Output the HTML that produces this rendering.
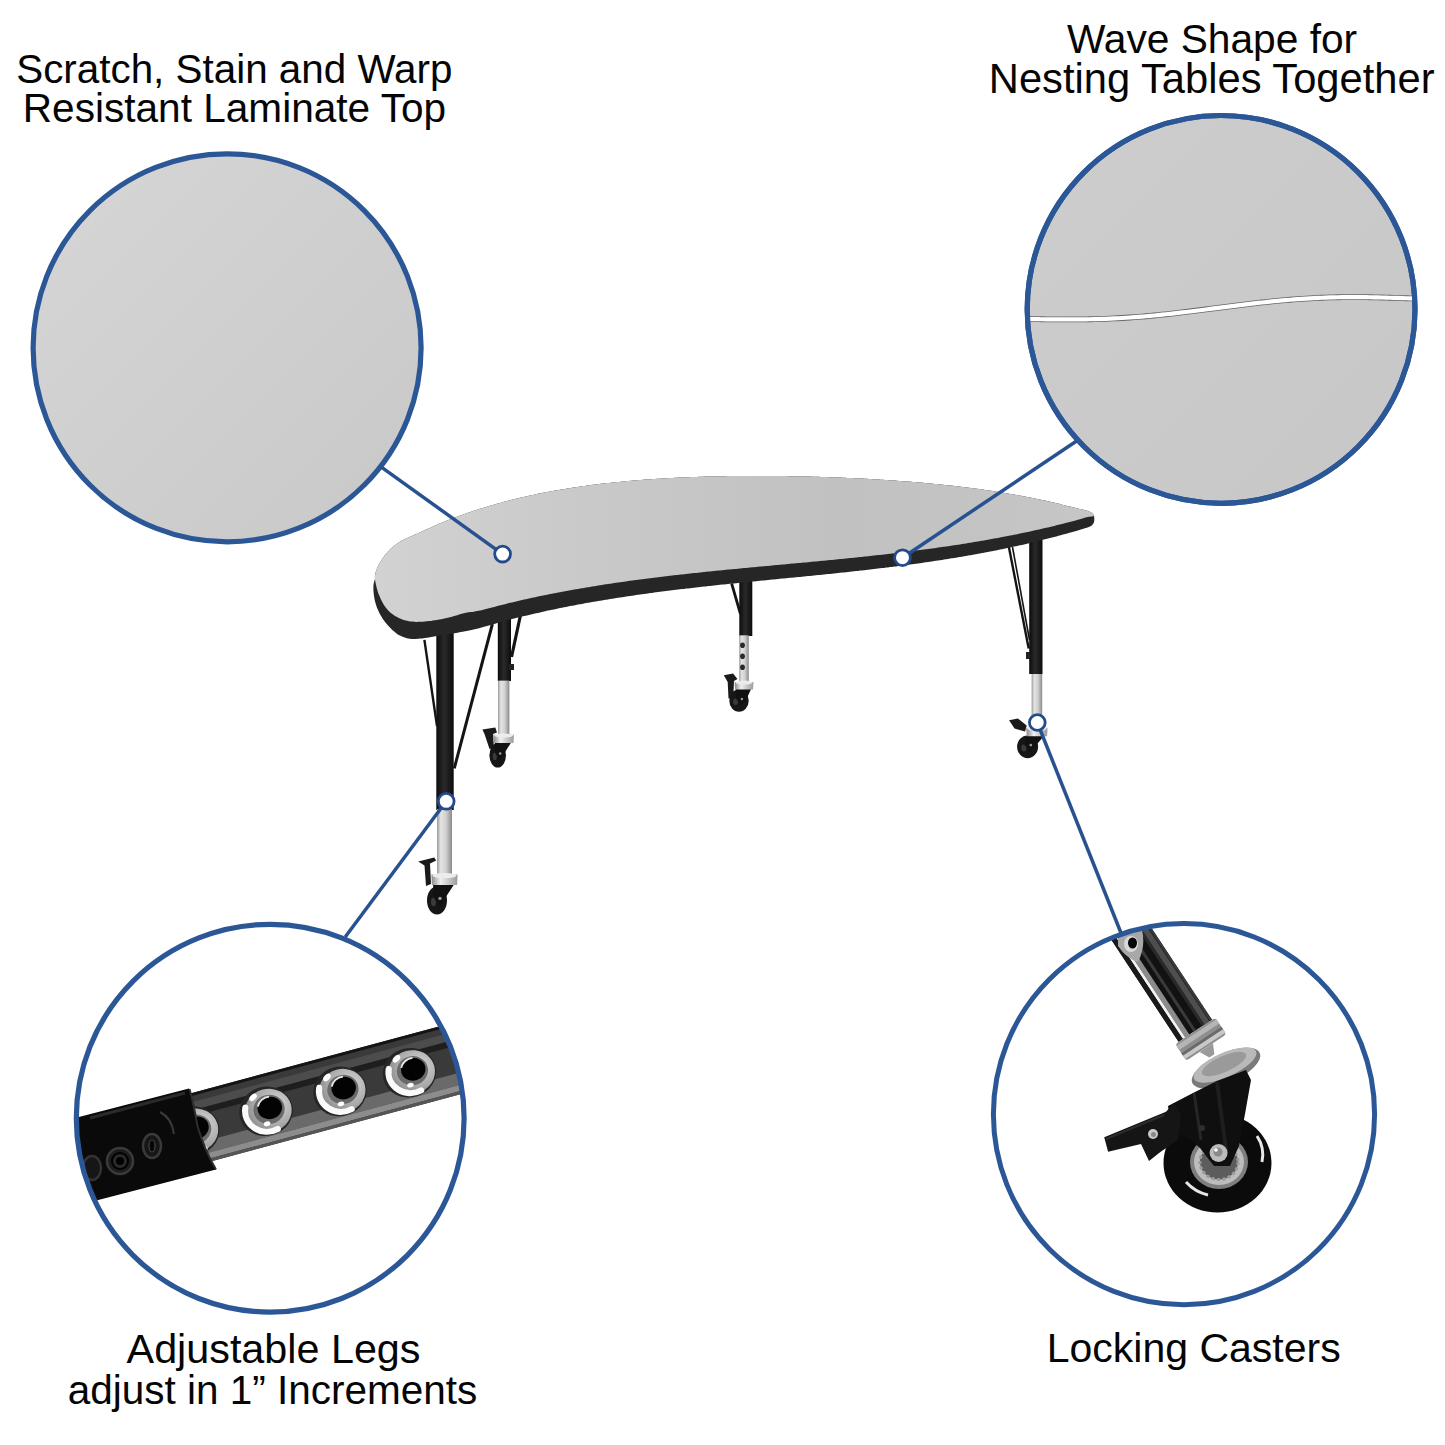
<!DOCTYPE html>
<html><head><meta charset="utf-8"><title>Half Circle Activity Table</title>
<style>
html,body{margin:0;padding:0;background:#fff;}
body{width:1445px;height:1445px;overflow:hidden;font-family:"Liberation Sans",sans-serif;}
svg{display:block;}
</style></head>
<body>
<svg width="1445" height="1445" viewBox="0 0 1445 1445">
<rect width="1445" height="1445" fill="#fff"/>
<defs>
<linearGradient id="g1" x1="0" y1="0" x2="1" y2="1">
 <stop offset="0" stop-color="#d6d6d6"/><stop offset="1" stop-color="#c8c8c8"/></linearGradient>
<linearGradient id="g2" x1="0" y1="0" x2="1" y2="1">
 <stop offset="0" stop-color="#cdcdcd"/><stop offset="1" stop-color="#c7c7c7"/></linearGradient>
<linearGradient id="gtop" x1="0" y1="0" x2="1" y2="0">
 <stop offset="0" stop-color="#d2d2d2"/><stop offset="0.3" stop-color="#c9c9c9"/><stop offset="0.65" stop-color="#c1c1c1"/><stop offset="1" stop-color="#c6c6c6"/></linearGradient>
<linearGradient id="chrome" x1="0" y1="0" x2="1" y2="0">
 <stop offset="0" stop-color="#9a9a9a"/><stop offset="0.25" stop-color="#e4e4e4"/><stop offset="0.6" stop-color="#d0d0d0"/><stop offset="1" stop-color="#8a8a8a"/></linearGradient>
<linearGradient id="collar" x1="0" y1="0" x2="1" y2="0">
 <stop offset="0" stop-color="#8a8a8a"/><stop offset="0.35" stop-color="#f0f0f0"/><stop offset="1" stop-color="#9a9a9a"/></linearGradient>
<linearGradient id="legb" x1="0" y1="0" x2="1" y2="0">
 <stop offset="0" stop-color="#0c0c0c"/><stop offset="0.45" stop-color="#2a2a2a"/><stop offset="1" stop-color="#0c0c0c"/></linearGradient>
<radialGradient id="holeg" cx="0.7" cy="0.4" r="0.8">
 <stop offset="0" stop-color="#d4d4d4"/><stop offset="0.6" stop-color="#a8a8a8"/><stop offset="1" stop-color="#7a7a7a"/></radialGradient>
<clipPath id="c2"><circle cx="1221.1" cy="309.4" r="193.5"/></clipPath>
<clipPath id="c3"><circle cx="270.2" cy="1118.2" r="194"/></clipPath>
<clipPath id="c4"><circle cx="1184" cy="1114.2" r="190.5"/></clipPath>
</defs>
<rect x="497.8" y="615" width="13.2" height="66" fill="url(#legb)"/>
<line x1="520.5" y1="615.0" x2="511.5" y2="657.0" stroke="#141414" stroke-width="3.2"/>
<rect x="509" y="664" width="5" height="6" fill="#222"/>
<rect x="498.0" y="680.6" width="11.4" height="54.1" fill="url(#chrome)"/>
<polygon points="482.4,729.4 495.3,727.6 497.0,732.4 493.0,734.0 494.0,748.0 489.5,749.0 484.5,734.0" fill="#1a1a1a"/>
<ellipse cx="497.7" cy="755.3" rx="8.3" ry="12.3" fill="#161616"/>
<ellipse cx="494.8" cy="756.5" rx="2.1" ry="3.7" fill="#3a3a3a"/>
<polygon points="494.7,741.3 511.9,741.3 503.9,754.1 499.4,760.8 495.2,752.8" fill="#111"/>
<circle cx="500.2" cy="753.5" r="1.3" fill="#9a9a9a"/>
<path d="M493.4,734.7 h20.5 l-0.4,8.2 h-19.7 z" fill="url(#collar)"/>
<ellipse cx="503.7" cy="735.5" rx="9.4" ry="2.1" fill="#ececec"/>
<rect x="739.3" y="578" width="13" height="58" fill="url(#legb)"/>
<line x1="731.6" y1="583.3" x2="740.5" y2="614.0" stroke="#141414" stroke-width="2.8"/>
<rect x="739.2" y="635.3" width="9.6" height="46.6" fill="url(#chrome)"/>
<ellipse cx="742.5" cy="645.3" rx="2.4" ry="2.8" fill="#2a2a2a"/>
<ellipse cx="742.5" cy="656.3" rx="2.4" ry="2.8" fill="#2a2a2a"/>
<ellipse cx="742.5" cy="667.3" rx="2.4" ry="2.8" fill="#2a2a2a"/>
<polygon points="723.8,675.2 733.0,673.5 737.5,679.0 734.0,681.0 733.2,698.5 728.5,698.5 727.7,681.9" fill="#1a1a1a"/>
<ellipse cx="739.0" cy="700.7" rx="9.7" ry="11.1" fill="#161616"/>
<ellipse cx="735.6" cy="701.8" rx="2.4" ry="3.3" fill="#3a3a3a"/>
<polygon points="735.8,687.9 751.5,687.9 746.3,699.6 740.9,705.7 736.1,698.5" fill="#111"/>
<circle cx="741.9" cy="699.0" r="1.2" fill="#9a9a9a"/>
<path d="M734.6,681.9 h18.8 l-0.4,7.5 h-18.0 z" fill="url(#collar)"/>
<ellipse cx="744.0" cy="682.6" rx="8.6" ry="2.0" fill="#ececec"/>
<rect x="1029.2" y="540" width="13.3" height="134" fill="url(#legb)"/>
<line x1="1008.9" y1="547.0" x2="1028.7" y2="648.6" stroke="#141414" stroke-width="2.4"/>
<line x1="1012.5" y1="547.0" x2="1029.5" y2="640.0" stroke="#141414" stroke-width="1.6"/>
<rect x="1026" y="652" width="4" height="7" fill="#222"/>
<rect x="1031.6" y="674.0" width="10.6" height="53.8" fill="url(#chrome)"/>
<polygon points="1009.1,720.2 1017.9,718.6 1026.7,725.5 1025.1,731.6 1014.5,728.5" fill="#1a1a1a"/>
<ellipse cx="1027.6" cy="746.8" rx="10.5" ry="11.4" fill="#161616"/>
<ellipse cx="1023.9" cy="747.9" rx="2.6" ry="3.4" fill="#3a3a3a"/>
<polygon points="1027.6,734.6 1045.4,734.6 1035.5,745.7 1029.7,751.9 1024.4,744.5" fill="#111"/>
<circle cx="1030.8" cy="745.1" r="1.4" fill="#9a9a9a"/>
<path d="M1026.3,727.8 h21.2 l-0.4,8.5 h-20.4 z" fill="url(#collar)"/>
<ellipse cx="1036.9" cy="728.6" rx="9.8" ry="2.2" fill="#ececec"/>
<rect x="436.3" y="625" width="17.4" height="185" fill="url(#legb)"/>
<line x1="424.4" y1="639.9" x2="437.0" y2="726.0" stroke="#141414" stroke-width="2.4"/>
<line x1="492.4" y1="624.0" x2="454.3" y2="768.3" stroke="#141414" stroke-width="3.0"/>
<rect x="437.0" y="809.0" width="15.0" height="65.6" fill="url(#chrome)"/>
<polygon points="418.2,861.5 434.2,857.6 436.2,860.5 430.0,863.5 431.0,884.0 426.0,886.0 424.5,865.4" fill="#1a1a1a"/>
<ellipse cx="437.0" cy="900.5" rx="10.0" ry="14.0" fill="#161616"/>
<ellipse cx="433.5" cy="901.9" rx="2.5" ry="4.2" fill="#3a3a3a"/>
<polygon points="432.9,883.0 455.0,883.0 444.5,899.1 439.0,906.8 434.0,897.7" fill="#111"/>
<circle cx="440.0" cy="898.4" r="1.7" fill="#9a9a9a"/>
<path d="M431.4,874.6 h26.2 l-0.5,10.5 h-25.2 z" fill="url(#collar)"/>
<ellipse cx="444.5" cy="875.6" rx="12.1" ry="2.7" fill="#ececec"/>
<path d="M375.6,583.0 L375.3,581.5 L375.0,579.3 L374.9,577.0 L375.1,574.9 L375.6,572.6 L376.2,570.5 L377.0,568.5 L377.9,566.5 L378.9,564.5 L380.0,562.5 L381.2,560.5 L382.6,558.4 L383.8,556.8 L385.0,555.1 L386.4,553.4 L387.8,551.8 L389.3,550.2 L390.9,548.6 L392.7,547.1 L394.5,545.6 L396.0,544.4 L397.6,543.3 L399.3,542.2 L401.0,541.1 L403.0,540.0 L404.6,539.2 L406.1,538.5 L407.7,537.8 L409.5,537.0 L411.9,536.0 L415.0,534.6 L416.4,534.0 L417.9,533.3 L419.5,532.6 L421.2,531.8 L423.0,531.0 L424.9,530.1 L426.9,529.2 L428.9,528.3 L430.9,527.4 L433.0,526.5 L435.0,525.6 L437.1,524.7 L439.1,523.8 L441.1,523.0 L443.1,522.1 L445.0,521.4 L447.0,520.6 L449.0,519.8 L451.0,519.0 L453.0,518.2 L455.0,517.5 L457.0,516.7 L459.0,516.0 L461.0,515.3 L463.0,514.6 L465.0,513.8 L467.0,513.1 L469.0,512.5 L471.0,511.8 L473.0,511.1 L475.0,510.4 L477.0,509.8 L479.0,509.1 L481.0,508.5 L483.0,507.9 L485.0,507.3 L487.0,506.7 L489.0,506.1 L491.0,505.5 L493.0,504.9 L495.0,504.3 L497.0,503.8 L499.0,503.2 L501.0,502.7 L503.0,502.1 L505.0,501.6 L507.0,501.1 L509.0,500.5 L511.0,500.0 L513.0,499.5 L515.0,499.0 L517.0,498.5 L519.0,498.1 L521.0,497.6 L523.0,497.1 L525.0,496.7 L527.0,496.2 L529.0,495.8 L531.0,495.3 L533.0,494.9 L535.0,494.5 L537.0,494.1 L539.0,493.6 L541.0,493.2 L543.0,492.8 L545.0,492.4 L547.0,492.1 L549.0,491.7 L551.0,491.3 L553.0,490.9 L555.0,490.6 L557.0,490.2 L559.0,489.9 L561.0,489.5 L563.0,489.2 L565.0,488.9 L567.0,488.5 L569.0,488.2 L571.0,487.9 L573.0,487.6 L575.0,487.3 L577.0,487.0 L579.0,486.7 L581.0,486.4 L583.0,486.1 L585.0,485.9 L587.0,485.6 L589.0,485.3 L591.0,485.1 L593.0,484.8 L595.0,484.5 L597.0,484.3 L599.0,484.0 L601.0,483.8 L603.0,483.6 L605.0,483.3 L607.0,483.1 L609.0,482.9 L611.0,482.7 L613.0,482.5 L615.0,482.3 L617.0,482.1 L619.0,481.9 L621.0,481.7 L623.0,481.5 L625.0,481.3 L627.0,481.1 L629.0,480.9 L631.0,480.7 L633.0,480.6 L635.0,480.4 L637.0,480.2 L639.0,480.1 L641.0,479.9 L643.0,479.8 L645.0,479.6 L647.0,479.5 L649.0,479.3 L651.0,479.2 L653.0,479.1 L655.0,478.9 L657.0,478.8 L659.0,478.7 L661.0,478.5 L663.0,478.4 L665.0,478.3 L667.0,478.2 L669.0,478.1 L671.0,478.0 L673.0,477.9 L675.0,477.8 L677.0,477.7 L679.0,477.6 L681.0,477.5 L683.0,477.4 L685.0,477.3 L687.0,477.2 L689.0,477.2 L691.0,477.1 L693.0,477.0 L695.0,476.9 L697.0,476.9 L699.0,476.8 L701.0,476.7 L703.0,476.7 L705.0,476.6 L707.0,476.6 L709.0,476.5 L711.0,476.5 L713.0,476.4 L715.0,476.4 L717.0,476.3 L719.0,476.3 L721.0,476.2 L723.0,476.2 L725.0,476.2 L727.0,476.1 L729.0,476.1 L731.0,476.1 L733.0,476.0 L735.0,476.0 L737.0,476.0 L739.0,476.0 L741.0,476.0 L743.0,475.9 L745.0,475.9 L747.0,475.9 L749.0,475.9 L751.0,475.9 L753.0,475.9 L755.0,475.9 L757.0,475.9 L759.0,475.9 L761.0,475.9 L763.0,475.9 L765.0,475.9 L767.0,475.9 L769.0,475.9 L771.0,475.9 L773.0,476.0 L775.0,476.0 L777.0,476.0 L779.0,476.0 L781.0,476.0 L783.0,476.1 L785.0,476.1 L787.0,476.1 L789.0,476.2 L791.0,476.2 L793.0,476.2 L795.0,476.3 L797.0,476.3 L799.0,476.3 L801.0,476.4 L803.0,476.4 L805.0,476.5 L807.0,476.5 L809.0,476.6 L811.0,476.6 L813.0,476.7 L815.0,476.7 L817.0,476.8 L819.0,476.8 L821.0,476.9 L823.0,477.0 L825.0,477.0 L827.0,477.1 L829.0,477.2 L831.0,477.2 L833.0,477.3 L835.0,477.4 L837.0,477.5 L839.0,477.5 L841.0,477.6 L843.0,477.7 L845.0,477.8 L847.0,477.9 L849.0,478.0 L851.0,478.0 L853.0,478.1 L855.0,478.2 L857.0,478.3 L859.0,478.4 L861.0,478.5 L863.0,478.6 L865.0,478.7 L867.0,478.8 L869.0,479.0 L871.0,479.1 L873.0,479.2 L875.0,479.3 L877.0,479.4 L879.0,479.5 L881.0,479.7 L883.0,479.8 L885.0,479.9 L887.0,480.0 L889.0,480.2 L891.0,480.3 L893.0,480.5 L895.0,480.6 L897.0,480.7 L899.0,480.9 L901.0,481.0 L903.0,481.2 L905.0,481.3 L907.0,481.5 L909.0,481.6 L911.0,481.8 L913.0,482.0 L915.0,482.1 L917.0,482.3 L919.0,482.5 L921.0,482.6 L923.0,482.8 L925.0,483.0 L927.0,483.2 L929.0,483.4 L931.0,483.6 L933.0,483.7 L935.0,483.9 L937.0,484.1 L939.0,484.3 L941.0,484.5 L943.0,484.8 L945.0,485.0 L947.0,485.2 L949.0,485.4 L951.0,485.6 L953.0,485.8 L955.0,486.1 L957.0,486.3 L959.0,486.5 L961.0,486.8 L963.0,487.0 L965.0,487.3 L967.0,487.5 L969.0,487.8 L971.0,488.0 L973.0,488.3 L975.0,488.5 L977.0,488.8 L979.0,489.1 L981.0,489.3 L983.0,489.6 L985.0,489.9 L987.0,490.2 L989.0,490.5 L991.0,490.8 L993.0,491.1 L995.0,491.4 L997.0,491.7 L999.0,492.0 L1001.0,492.3 L1003.0,492.7 L1005.0,493.0 L1007.0,493.3 L1009.0,493.7 L1011.0,494.0 L1013.0,494.3 L1015.0,494.7 L1017.0,495.1 L1019.0,495.4 L1021.0,495.8 L1023.0,496.2 L1025.0,496.5 L1027.0,496.9 L1029.0,497.3 L1031.0,497.7 L1033.0,498.1 L1035.0,498.5 L1037.0,498.9 L1039.0,499.3 L1041.0,499.7 L1043.0,500.2 L1045.0,500.6 L1047.0,501.1 L1049.1,501.5 L1051.3,502.0 L1053.5,502.5 L1055.7,503.1 L1057.9,503.6 L1060.1,504.1 L1062.2,504.7 L1064.3,505.2 L1066.4,505.7 L1068.3,506.2 L1070.2,506.6 L1071.9,507.1 L1073.5,507.5 L1075.0,507.8 L1078.6,508.7 L1081.3,509.3 L1083.3,509.8 L1085.0,510.2 L1086.5,510.6 L1089.1,511.5 L1090.6,512.2 L1092.0,513.1 L1093.0,514.0 L1093.7,515.1 L1094.0,516.0 L1094.0,516.0 L1094.2,517.3 L1094.3,519.0 L1094.3,520.5 L1094.0,522.0 L1093.4,523.4 L1092.6,524.6 L1091.8,525.5 L1090.0,526.5 L1088.8,527.0 L1087.5,527.5 L1085.8,528.1 L1083.4,528.8 L1080.0,529.8 L1078.6,530.2 L1077.0,530.7 L1075.3,531.2 L1073.4,531.7 L1071.5,532.3 L1069.4,532.8 L1067.3,533.4 L1065.2,534.0 L1063.0,534.6 L1060.7,535.2 L1058.5,535.8 L1056.3,536.4 L1054.2,537.0 L1052.0,537.6 L1050.0,538.1 L1048.0,538.6 L1046.0,539.1 L1044.0,539.6 L1042.0,540.1 L1040.0,540.6 L1038.0,541.1 L1036.0,541.6 L1034.0,542.1 L1032.0,542.5 L1030.0,543.0 L1028.0,543.5 L1026.0,543.9 L1024.0,544.4 L1022.0,544.9 L1020.0,545.3 L1018.0,545.8 L1016.0,546.2 L1014.0,546.6 L1012.0,547.1 L1010.0,547.5 L1008.0,547.9 L1006.0,548.3 L1004.0,548.8 L1002.0,549.2 L1000.0,549.6 L998.0,550.0 L996.0,550.4 L994.0,550.8 L992.0,551.2 L990.0,551.6 L988.0,552.0 L986.0,552.3 L984.0,552.7 L982.0,553.1 L980.0,553.5 L978.0,553.8 L976.0,554.2 L974.0,554.6 L972.0,554.9 L970.0,555.3 L968.0,555.6 L966.0,556.0 L964.0,556.3 L962.0,556.7 L960.0,557.0 L958.0,557.3 L956.0,557.7 L954.0,558.0 L952.0,558.3 L950.0,558.6 L948.0,559.0 L946.0,559.3 L944.0,559.6 L942.0,559.9 L940.0,560.2 L938.0,560.5 L936.0,560.8 L934.0,561.1 L932.0,561.4 L930.0,561.7 L928.0,562.0 L926.0,562.3 L924.0,562.6 L922.0,562.9 L920.0,563.2 L918.0,563.4 L916.0,563.7 L914.0,564.0 L912.0,564.3 L910.0,564.5 L908.0,564.8 L906.0,565.1 L904.0,565.3 L902.0,565.6 L900.0,565.9 L898.0,566.1 L896.0,566.4 L894.0,566.6 L892.0,566.9 L890.0,567.1 L888.0,567.4 L886.0,567.6 L884.0,567.9 L882.0,568.1 L880.0,568.3 L878.0,568.6 L876.0,568.8 L874.0,569.0 L872.0,569.3 L870.0,569.5 L868.0,569.7 L866.0,570.0 L864.0,570.2 L862.0,570.4 L860.0,570.6 L858.0,570.9 L856.0,571.1 L854.0,571.3 L852.0,571.5 L850.0,571.7 L848.0,572.0 L846.0,572.2 L844.0,572.4 L842.0,572.6 L840.0,572.8 L838.0,573.0 L836.0,573.2 L834.0,573.4 L832.0,573.7 L830.0,573.9 L828.0,574.1 L826.0,574.3 L824.0,574.5 L822.0,574.7 L820.0,574.9 L818.0,575.1 L816.0,575.3 L814.0,575.5 L812.0,575.7 L810.0,575.9 L808.0,576.1 L806.0,576.3 L804.0,576.5 L802.0,576.7 L800.0,576.9 L798.0,577.1 L796.0,577.3 L794.0,577.5 L792.0,577.7 L790.0,577.8 L788.0,578.0 L786.0,578.2 L784.0,578.4 L782.0,578.6 L780.0,578.8 L778.0,579.0 L776.0,579.2 L774.0,579.4 L772.0,579.6 L770.0,579.8 L768.0,580.0 L766.0,580.2 L764.0,580.4 L762.0,580.6 L760.0,580.8 L758.0,581.0 L756.0,581.2 L754.0,581.4 L752.0,581.6 L750.0,581.8 L748.0,582.0 L746.0,582.2 L744.0,582.4 L742.0,582.6 L740.0,582.8 L738.0,583.0 L736.0,583.2 L734.0,583.4 L732.0,583.6 L730.0,583.8 L728.0,584.0 L726.0,584.2 L724.0,584.4 L722.0,584.6 L720.0,584.8 L718.0,585.1 L716.0,585.3 L714.0,585.5 L712.0,585.7 L710.0,585.9 L708.0,586.1 L706.0,586.4 L704.0,586.6 L702.0,586.8 L700.0,587.0 L698.0,587.2 L696.0,587.5 L694.0,587.7 L692.0,587.9 L690.0,588.2 L688.0,588.4 L686.0,588.6 L684.0,588.9 L682.0,589.1 L680.0,589.3 L678.0,589.6 L676.0,589.8 L674.0,590.1 L672.0,590.3 L670.0,590.5 L668.0,590.8 L666.0,591.0 L664.0,591.3 L662.0,591.6 L660.0,591.8 L658.0,592.1 L656.0,592.3 L654.0,592.6 L652.0,592.9 L650.0,593.1 L648.0,593.4 L646.0,593.7 L644.0,594.0 L642.0,594.2 L640.0,594.5 L638.0,594.8 L636.0,595.1 L634.0,595.4 L632.0,595.7 L630.0,596.0 L628.0,596.3 L626.0,596.6 L624.0,596.9 L622.0,597.2 L620.0,597.5 L618.0,597.8 L616.0,598.1 L614.0,598.4 L612.0,598.7 L610.0,599.0 L608.0,599.4 L606.0,599.7 L604.0,600.0 L602.0,600.4 L600.0,600.7 L598.0,601.0 L596.0,601.4 L594.0,601.7 L592.0,602.1 L590.0,602.4 L588.0,602.8 L586.0,603.1 L584.0,603.5 L582.0,603.9 L580.0,604.2 L578.0,604.6 L576.0,605.0 L574.0,605.4 L572.0,605.7 L570.0,606.1 L568.0,606.5 L566.0,606.9 L564.0,607.3 L562.0,607.7 L560.0,608.1 L558.0,608.5 L556.0,609.0 L554.0,609.4 L552.0,609.8 L550.0,610.2 L548.0,610.6 L546.0,611.1 L544.0,611.5 L542.0,612.0 L540.0,612.4 L538.0,612.9 L536.0,613.3 L534.0,613.8 L532.0,614.2 L530.0,614.7 L528.0,615.2 L526.0,615.7 L524.0,616.1 L522.0,616.6 L520.0,617.1 L518.0,617.6 L516.0,618.1 L514.0,618.6 L512.0,619.1 L510.0,619.6 L508.0,620.2 L505.9,620.7 L503.8,621.3 L501.6,621.9 L499.4,622.5 L497.3,623.1 L495.1,623.7 L493.0,624.3 L490.9,624.9 L488.9,625.5 L486.9,626.0 L485.0,626.6 L483.2,627.1 L481.6,627.5 L480.0,627.9 L477.1,628.7 L474.6,629.3 L472.5,629.8 L470.6,630.2 L468.8,630.5 L467.0,630.9 L465.0,631.3 L462.8,631.7 L460.6,632.1 L458.5,632.5 L456.3,632.9 L454.1,633.3 L452.0,633.7 L450.0,634.0 L447.7,634.4 L445.5,634.7 L443.4,635.0 L441.3,635.3 L439.3,635.6 L437.3,635.9 L435.1,636.3 L432.9,636.7 L430.9,637.1 L428.9,637.5 L427.0,637.8 L424.7,638.1 L422.4,638.4 L420.3,638.6 L418.3,638.8 L416.0,638.9 L413.9,639.0 L412.0,638.9 L409.5,638.7 L406.9,638.2 L404.8,637.6 L402.6,636.7 L400.5,635.8 L398.7,634.9 L397.1,633.9 L395.4,632.6 L393.9,631.3 L392.3,629.9 L390.7,628.3 L389.2,626.8 L387.8,625.3 L386.5,623.8 L385.2,622.2 L384.0,620.6 L382.8,618.9 L381.7,617.1 L380.6,615.2 L379.6,613.4 L378.7,611.6 L377.9,609.8 L377.1,607.9 L376.4,606.0 L375.8,604.0 L375.2,602.0 L374.7,599.9 L374.3,597.8 L374.0,595.7 L373.7,593.5 L373.5,591.5 L373.4,589.5 L373.4,587.2 L373.5,585.1 L373.8,583.0 L374.4,580.7 L375.1,578.5 L375.6,577.0Z" fill="#262626"/>
<path d="M375.6,583.0 L375.3,581.5 L375.0,579.3 L374.9,577.0 L375.1,574.9 L375.6,572.6 L376.2,570.5 L377.0,568.5 L377.9,566.5 L378.9,564.5 L380.0,562.5 L381.2,560.5 L382.6,558.4 L383.8,556.8 L385.0,555.1 L386.4,553.4 L387.8,551.8 L389.3,550.2 L390.9,548.6 L392.7,547.1 L394.5,545.6 L396.0,544.4 L397.6,543.3 L399.3,542.2 L401.0,541.1 L403.0,540.0 L404.6,539.2 L406.1,538.5 L407.7,537.8 L409.5,537.0 L411.9,536.0 L415.0,534.6 L416.4,534.0 L417.9,533.3 L419.5,532.6 L421.2,531.8 L423.0,531.0 L424.9,530.1 L426.9,529.2 L428.9,528.3 L430.9,527.4 L433.0,526.5 L435.0,525.6 L437.1,524.7 L439.1,523.8 L441.1,523.0 L443.1,522.1 L445.0,521.4 L447.0,520.6 L449.0,519.8 L451.0,519.0 L453.0,518.2 L455.0,517.5 L457.0,516.7 L459.0,516.0 L461.0,515.3 L463.0,514.6 L465.0,513.8 L467.0,513.1 L469.0,512.5 L471.0,511.8 L473.0,511.1 L475.0,510.4 L477.0,509.8 L479.0,509.1 L481.0,508.5 L483.0,507.9 L485.0,507.3 L487.0,506.7 L489.0,506.1 L491.0,505.5 L493.0,504.9 L495.0,504.3 L497.0,503.8 L499.0,503.2 L501.0,502.7 L503.0,502.1 L505.0,501.6 L507.0,501.1 L509.0,500.5 L511.0,500.0 L513.0,499.5 L515.0,499.0 L517.0,498.5 L519.0,498.1 L521.0,497.6 L523.0,497.1 L525.0,496.7 L527.0,496.2 L529.0,495.8 L531.0,495.3 L533.0,494.9 L535.0,494.5 L537.0,494.1 L539.0,493.6 L541.0,493.2 L543.0,492.8 L545.0,492.4 L547.0,492.1 L549.0,491.7 L551.0,491.3 L553.0,490.9 L555.0,490.6 L557.0,490.2 L559.0,489.9 L561.0,489.5 L563.0,489.2 L565.0,488.9 L567.0,488.5 L569.0,488.2 L571.0,487.9 L573.0,487.6 L575.0,487.3 L577.0,487.0 L579.0,486.7 L581.0,486.4 L583.0,486.1 L585.0,485.9 L587.0,485.6 L589.0,485.3 L591.0,485.1 L593.0,484.8 L595.0,484.5 L597.0,484.3 L599.0,484.0 L601.0,483.8 L603.0,483.6 L605.0,483.3 L607.0,483.1 L609.0,482.9 L611.0,482.7 L613.0,482.5 L615.0,482.3 L617.0,482.1 L619.0,481.9 L621.0,481.7 L623.0,481.5 L625.0,481.3 L627.0,481.1 L629.0,480.9 L631.0,480.7 L633.0,480.6 L635.0,480.4 L637.0,480.2 L639.0,480.1 L641.0,479.9 L643.0,479.8 L645.0,479.6 L647.0,479.5 L649.0,479.3 L651.0,479.2 L653.0,479.1 L655.0,478.9 L657.0,478.8 L659.0,478.7 L661.0,478.5 L663.0,478.4 L665.0,478.3 L667.0,478.2 L669.0,478.1 L671.0,478.0 L673.0,477.9 L675.0,477.8 L677.0,477.7 L679.0,477.6 L681.0,477.5 L683.0,477.4 L685.0,477.3 L687.0,477.2 L689.0,477.2 L691.0,477.1 L693.0,477.0 L695.0,476.9 L697.0,476.9 L699.0,476.8 L701.0,476.7 L703.0,476.7 L705.0,476.6 L707.0,476.6 L709.0,476.5 L711.0,476.5 L713.0,476.4 L715.0,476.4 L717.0,476.3 L719.0,476.3 L721.0,476.2 L723.0,476.2 L725.0,476.2 L727.0,476.1 L729.0,476.1 L731.0,476.1 L733.0,476.0 L735.0,476.0 L737.0,476.0 L739.0,476.0 L741.0,476.0 L743.0,475.9 L745.0,475.9 L747.0,475.9 L749.0,475.9 L751.0,475.9 L753.0,475.9 L755.0,475.9 L757.0,475.9 L759.0,475.9 L761.0,475.9 L763.0,475.9 L765.0,475.9 L767.0,475.9 L769.0,475.9 L771.0,475.9 L773.0,476.0 L775.0,476.0 L777.0,476.0 L779.0,476.0 L781.0,476.0 L783.0,476.1 L785.0,476.1 L787.0,476.1 L789.0,476.2 L791.0,476.2 L793.0,476.2 L795.0,476.3 L797.0,476.3 L799.0,476.3 L801.0,476.4 L803.0,476.4 L805.0,476.5 L807.0,476.5 L809.0,476.6 L811.0,476.6 L813.0,476.7 L815.0,476.7 L817.0,476.8 L819.0,476.8 L821.0,476.9 L823.0,477.0 L825.0,477.0 L827.0,477.1 L829.0,477.2 L831.0,477.2 L833.0,477.3 L835.0,477.4 L837.0,477.5 L839.0,477.5 L841.0,477.6 L843.0,477.7 L845.0,477.8 L847.0,477.9 L849.0,478.0 L851.0,478.0 L853.0,478.1 L855.0,478.2 L857.0,478.3 L859.0,478.4 L861.0,478.5 L863.0,478.6 L865.0,478.7 L867.0,478.8 L869.0,479.0 L871.0,479.1 L873.0,479.2 L875.0,479.3 L877.0,479.4 L879.0,479.5 L881.0,479.7 L883.0,479.8 L885.0,479.9 L887.0,480.0 L889.0,480.2 L891.0,480.3 L893.0,480.5 L895.0,480.6 L897.0,480.7 L899.0,480.9 L901.0,481.0 L903.0,481.2 L905.0,481.3 L907.0,481.5 L909.0,481.6 L911.0,481.8 L913.0,482.0 L915.0,482.1 L917.0,482.3 L919.0,482.5 L921.0,482.6 L923.0,482.8 L925.0,483.0 L927.0,483.2 L929.0,483.4 L931.0,483.6 L933.0,483.7 L935.0,483.9 L937.0,484.1 L939.0,484.3 L941.0,484.5 L943.0,484.8 L945.0,485.0 L947.0,485.2 L949.0,485.4 L951.0,485.6 L953.0,485.8 L955.0,486.1 L957.0,486.3 L959.0,486.5 L961.0,486.8 L963.0,487.0 L965.0,487.3 L967.0,487.5 L969.0,487.8 L971.0,488.0 L973.0,488.3 L975.0,488.5 L977.0,488.8 L979.0,489.1 L981.0,489.3 L983.0,489.6 L985.0,489.9 L987.0,490.2 L989.0,490.5 L991.0,490.8 L993.0,491.1 L995.0,491.4 L997.0,491.7 L999.0,492.0 L1001.0,492.3 L1003.0,492.7 L1005.0,493.0 L1007.0,493.3 L1009.0,493.7 L1011.0,494.0 L1013.0,494.3 L1015.0,494.7 L1017.0,495.1 L1019.0,495.4 L1021.0,495.8 L1023.0,496.2 L1025.0,496.5 L1027.0,496.9 L1029.0,497.3 L1031.0,497.7 L1033.0,498.1 L1035.0,498.5 L1037.0,498.9 L1039.0,499.3 L1041.0,499.7 L1043.0,500.2 L1045.0,500.6 L1047.0,501.1 L1049.1,501.5 L1051.3,502.0 L1053.5,502.5 L1055.7,503.1 L1057.9,503.6 L1060.1,504.1 L1062.2,504.7 L1064.3,505.2 L1066.4,505.7 L1068.3,506.2 L1070.2,506.6 L1071.9,507.1 L1073.5,507.5 L1075.0,507.8 L1078.6,508.7 L1081.3,509.3 L1083.3,509.8 L1085.0,510.2 L1086.5,510.6 L1089.1,511.5 L1090.6,512.2 L1092.0,513.1 L1093.0,514.0 L1093.7,515.1 L1094.0,516.0 L1094.0,516.0 L1093.1,516.3 L1091.5,516.6 L1089.2,516.8 L1086.5,517.2 L1085.3,517.6 L1084.0,518.1 L1080.0,519.3 L1078.7,519.6 L1077.2,520.0 L1075.5,520.5 L1073.7,520.9 L1071.7,521.4 L1069.7,522.0 L1067.6,522.5 L1065.4,523.1 L1063.1,523.7 L1060.9,524.2 L1058.6,524.8 L1056.4,525.3 L1054.2,525.9 L1052.0,526.4 L1050.0,526.9 L1048.0,527.4 L1046.0,527.8 L1044.0,528.3 L1042.0,528.8 L1040.0,529.2 L1038.0,529.7 L1036.0,530.1 L1034.0,530.6 L1032.0,531.0 L1030.0,531.4 L1028.0,531.9 L1026.0,532.3 L1024.0,532.7 L1022.0,533.1 L1020.0,533.5 L1018.0,534.0 L1016.0,534.4 L1014.0,534.8 L1012.0,535.2 L1010.0,535.6 L1008.0,536.0 L1006.0,536.3 L1004.0,536.7 L1002.0,537.1 L1000.0,537.5 L998.0,537.9 L996.0,538.2 L994.0,538.6 L992.0,539.0 L990.0,539.3 L988.0,539.7 L986.0,540.0 L984.0,540.4 L982.0,540.7 L980.0,541.1 L978.0,541.4 L976.0,541.8 L974.0,542.1 L972.0,542.4 L970.0,542.8 L968.0,543.1 L966.0,543.4 L964.0,543.7 L962.0,544.0 L960.0,544.4 L958.0,544.7 L956.0,545.0 L954.0,545.3 L952.0,545.6 L950.0,545.9 L948.0,546.2 L946.0,546.5 L944.0,546.8 L942.0,547.1 L940.0,547.3 L938.0,547.6 L936.0,547.9 L934.0,548.2 L932.0,548.5 L930.0,548.7 L928.0,549.0 L926.0,549.3 L924.0,549.5 L922.0,549.8 L920.0,550.1 L918.0,550.3 L916.0,550.6 L914.0,550.9 L912.0,551.1 L910.0,551.4 L908.0,551.6 L906.0,551.9 L904.0,552.1 L902.0,552.3 L900.0,552.6 L898.0,552.8 L896.0,553.1 L894.0,553.3 L892.0,553.5 L890.0,553.8 L888.0,554.0 L886.0,554.2 L884.0,554.5 L882.0,554.7 L880.0,554.9 L878.0,555.1 L876.0,555.3 L874.0,555.6 L872.0,555.8 L870.0,556.0 L868.0,556.2 L866.0,556.4 L864.0,556.6 L862.0,556.9 L860.0,557.1 L858.0,557.3 L856.0,557.5 L854.0,557.7 L852.0,557.9 L850.0,558.1 L848.0,558.3 L846.0,558.5 L844.0,558.7 L842.0,558.9 L840.0,559.1 L838.0,559.3 L836.0,559.5 L834.0,559.7 L832.0,559.9 L830.0,560.1 L828.0,560.3 L826.0,560.5 L824.0,560.7 L822.0,560.8 L820.0,561.0 L818.0,561.2 L816.0,561.4 L814.0,561.6 L812.0,561.8 L810.0,562.0 L808.0,562.2 L806.0,562.4 L804.0,562.5 L802.0,562.7 L800.0,562.9 L798.0,563.1 L796.0,563.3 L794.0,563.5 L792.0,563.6 L790.0,563.8 L788.0,564.0 L786.0,564.2 L784.0,564.4 L782.0,564.6 L780.0,564.8 L778.0,564.9 L776.0,565.1 L774.0,565.3 L772.0,565.5 L770.0,565.7 L768.0,565.9 L766.0,566.0 L764.0,566.2 L762.0,566.4 L760.0,566.6 L758.0,566.8 L756.0,567.0 L754.0,567.2 L752.0,567.3 L750.0,567.5 L748.0,567.7 L746.0,567.9 L744.0,568.1 L742.0,568.3 L740.0,568.5 L738.0,568.7 L736.0,568.9 L734.0,569.1 L732.0,569.2 L730.0,569.4 L728.0,569.6 L726.0,569.8 L724.0,570.0 L722.0,570.2 L720.0,570.4 L718.0,570.6 L716.0,570.8 L714.0,571.0 L712.0,571.2 L710.0,571.4 L708.0,571.6 L706.0,571.8 L704.0,572.0 L702.0,572.3 L700.0,572.5 L698.0,572.7 L696.0,572.9 L694.0,573.1 L692.0,573.3 L690.0,573.5 L688.0,573.7 L686.0,574.0 L684.0,574.2 L682.0,574.4 L680.0,574.6 L678.0,574.9 L676.0,575.1 L674.0,575.3 L672.0,575.5 L670.0,575.8 L668.0,576.0 L666.0,576.2 L664.0,576.5 L662.0,576.7 L660.0,577.0 L658.0,577.2 L656.0,577.5 L654.0,577.7 L652.0,578.0 L650.0,578.2 L648.0,578.5 L646.0,578.7 L644.0,579.0 L642.0,579.2 L640.0,579.5 L638.0,579.8 L636.0,580.0 L634.0,580.3 L632.0,580.6 L630.0,580.8 L628.0,581.1 L626.0,581.4 L624.0,581.7 L622.0,582.0 L620.0,582.2 L618.0,582.5 L616.0,582.8 L614.0,583.1 L612.0,583.4 L610.0,583.7 L608.0,584.0 L606.0,584.3 L604.0,584.6 L602.0,584.9 L600.0,585.3 L598.0,585.6 L596.0,585.9 L594.0,586.2 L592.0,586.5 L590.0,586.9 L588.0,587.2 L586.0,587.5 L584.0,587.9 L582.0,588.2 L580.0,588.6 L578.0,588.9 L576.0,589.2 L574.0,589.6 L572.0,590.0 L570.0,590.3 L568.0,590.7 L566.0,591.1 L564.0,591.4 L562.0,591.8 L560.0,592.2 L558.0,592.6 L556.0,592.9 L554.0,593.3 L552.0,593.7 L550.0,594.1 L548.0,594.5 L546.0,594.9 L544.0,595.3 L542.0,595.7 L540.0,596.1 L538.0,596.6 L536.0,597.0 L534.0,597.4 L532.0,597.8 L530.0,598.3 L528.0,598.7 L526.0,599.2 L524.0,599.6 L522.0,600.1 L520.0,600.5 L518.0,601.0 L516.0,601.4 L514.0,601.9 L512.0,602.4 L510.0,602.8 L508.0,603.3 L505.9,603.9 L503.8,604.4 L501.6,605.0 L499.4,605.5 L497.3,606.1 L495.1,606.7 L493.0,607.2 L490.9,607.8 L488.9,608.3 L486.9,608.8 L485.0,609.3 L483.2,609.7 L481.6,610.2 L480.0,610.5 L477.1,611.1 L474.6,611.6 L472.5,611.9 L470.6,612.1 L468.8,612.3 L467.0,612.6 L465.0,613.0 L462.8,613.5 L460.7,614.1 L458.5,614.8 L456.3,615.4 L454.1,616.1 L452.0,616.7 L450.0,617.2 L447.7,617.8 L445.5,618.3 L443.3,618.8 L441.2,619.2 L439.1,619.6 L437.0,620.0 L434.9,620.3 L432.9,620.6 L430.8,620.9 L428.9,621.1 L426.9,621.3 L425.0,621.5 L422.8,621.7 L420.6,621.8 L418.5,621.8 L416.4,621.9 L414.5,621.8 L412.2,621.6 L410.0,621.4 L408.0,621.0 L406.0,620.6 L403.6,619.9 L401.4,619.1 L399.2,618.2 L397.1,617.1 L395.0,615.9 L393.0,614.6 L391.2,613.2 L389.4,611.7 L387.8,610.0 L386.3,608.2 L384.8,606.2 L383.5,604.2 L382.3,602.1 L381.2,600.0 L380.2,597.8 L379.3,595.6 L378.4,593.4 L377.6,591.0 L377.0,588.9 L376.4,586.6 L375.9,584.5 L375.6,583.0Z" fill="url(#gtop)"/>
<circle cx="227.1" cy="347.8" r="194.0" fill="url(#g1)" stroke="#2b5797" stroke-width="5.2"/>
<circle cx="1221.1" cy="309.4" r="193.9" fill="url(#g2)" stroke="#2b5797" stroke-width="5.2"/>
<g clip-path="url(#c2)">
<path d="M1022.0,318.99 L1026.0,319.02 L1030.0,319.07 L1034.0,319.12 L1038.0,319.17 L1042.0,319.23 L1046.0,319.28 L1050.0,319.33 L1054.0,319.38 L1058.0,319.42 L1062.0,319.45 L1066.0,319.46 L1070.0,319.47 L1074.0,319.46 L1078.0,319.44 L1082.0,319.40 L1086.0,319.35 L1090.0,319.27 L1094.0,319.18 L1098.0,319.08 L1102.0,318.95 L1106.0,318.80 L1110.0,318.63 L1114.0,318.44 L1118.0,318.24 L1122.0,318.01 L1126.0,317.76 L1130.0,317.49 L1134.0,317.21 L1138.0,316.90 L1142.0,316.58 L1146.0,316.24 L1150.0,315.88 L1154.0,315.50 L1158.0,315.11 L1162.0,314.70 L1166.0,314.28 L1170.0,313.84 L1174.0,313.39 L1178.0,312.93 L1182.0,312.46 L1186.0,311.97 L1190.0,311.48 L1194.0,310.99 L1198.0,310.48 L1202.0,309.97 L1206.0,309.46 L1210.0,308.94 L1214.0,308.42 L1218.0,307.90 L1222.0,307.38 L1226.0,306.87 L1230.0,306.35 L1234.0,305.84 L1238.0,305.34 L1242.0,304.84 L1246.0,304.35 L1250.0,303.86 L1254.0,303.39 L1258.0,302.93 L1262.0,302.48 L1266.0,302.04 L1270.0,301.62 L1274.0,301.21 L1278.0,300.82 L1282.0,300.45 L1286.0,300.09 L1290.0,299.75 L1294.0,299.43 L1298.0,299.13 L1302.0,298.85 L1306.0,298.58 L1310.0,298.34 L1314.0,298.13 L1318.0,297.93 L1322.0,297.75 L1326.0,297.60 L1330.0,297.46 L1334.0,297.35 L1338.0,297.26 L1342.0,297.19 L1346.0,297.15 L1350.0,297.12 L1354.0,297.11 L1358.0,297.12 L1362.0,297.14 L1366.0,297.19 L1370.0,297.25 L1374.0,297.32 L1378.0,297.41 L1382.0,297.50 L1386.0,297.61 L1390.0,297.73 L1394.0,297.85 L1398.0,297.97 L1402.0,298.10 L1406.0,298.23 L1410.0,298.35 L1414.0,298.47 L1418.0,298.57" fill="none" stroke="#666666" stroke-width="5.8"/>
<path d="M1022.0,318.99 L1026.0,319.02 L1030.0,319.07 L1034.0,319.12 L1038.0,319.17 L1042.0,319.23 L1046.0,319.28 L1050.0,319.33 L1054.0,319.38 L1058.0,319.42 L1062.0,319.45 L1066.0,319.46 L1070.0,319.47 L1074.0,319.46 L1078.0,319.44 L1082.0,319.40 L1086.0,319.35 L1090.0,319.27 L1094.0,319.18 L1098.0,319.08 L1102.0,318.95 L1106.0,318.80 L1110.0,318.63 L1114.0,318.44 L1118.0,318.24 L1122.0,318.01 L1126.0,317.76 L1130.0,317.49 L1134.0,317.21 L1138.0,316.90 L1142.0,316.58 L1146.0,316.24 L1150.0,315.88 L1154.0,315.50 L1158.0,315.11 L1162.0,314.70 L1166.0,314.28 L1170.0,313.84 L1174.0,313.39 L1178.0,312.93 L1182.0,312.46 L1186.0,311.97 L1190.0,311.48 L1194.0,310.99 L1198.0,310.48 L1202.0,309.97 L1206.0,309.46 L1210.0,308.94 L1214.0,308.42 L1218.0,307.90 L1222.0,307.38 L1226.0,306.87 L1230.0,306.35 L1234.0,305.84 L1238.0,305.34 L1242.0,304.84 L1246.0,304.35 L1250.0,303.86 L1254.0,303.39 L1258.0,302.93 L1262.0,302.48 L1266.0,302.04 L1270.0,301.62 L1274.0,301.21 L1278.0,300.82 L1282.0,300.45 L1286.0,300.09 L1290.0,299.75 L1294.0,299.43 L1298.0,299.13 L1302.0,298.85 L1306.0,298.58 L1310.0,298.34 L1314.0,298.13 L1318.0,297.93 L1322.0,297.75 L1326.0,297.60 L1330.0,297.46 L1334.0,297.35 L1338.0,297.26 L1342.0,297.19 L1346.0,297.15 L1350.0,297.12 L1354.0,297.11 L1358.0,297.12 L1362.0,297.14 L1366.0,297.19 L1370.0,297.25 L1374.0,297.32 L1378.0,297.41 L1382.0,297.50 L1386.0,297.61 L1390.0,297.73 L1394.0,297.85 L1398.0,297.97 L1402.0,298.10 L1406.0,298.23 L1410.0,298.35 L1414.0,298.47 L1418.0,298.57" fill="none" stroke="#ffffff" stroke-width="4.2"/>
</g>
<circle cx="1221.1" cy="309.4" r="193.9" fill="none" stroke="#2b5797" stroke-width="5.2"/>
<g clip-path="url(#c3)">
<g transform="translate(185,1094.8) rotate(-15.07)">
<rect x="-10" y="0" width="330" height="71" fill="#3a3a3a"/>
<rect x="-10" y="0" width="330" height="3" fill="#141414"/>
<rect x="-10" y="9" width="330" height="8" fill="#4c4c4c"/>
<rect x="-10" y="17" width="330" height="6" fill="#1e1e1e"/>
<rect x="-10" y="50" width="330" height="12" fill="#6a6a6a"/>
<rect x="-10" y="62" width="330" height="6" fill="#8c8c8c"/>
<rect x="-10" y="68" width="330" height="3" fill="#555"/>
<g transform="translate(-2.0,37) scale(1.12)">
<ellipse cx="0" cy="0" rx="24" ry="22" fill="#262626"/>
<ellipse cx="2" cy="0" rx="21" ry="19.5" fill="url(#holeg)"/>
<path d="M-17,-8 A20,19 0 0 0 6,18" fill="none" stroke="#fafafa" stroke-width="5.5" stroke-linecap="round"/>
<ellipse cx="3" cy="-1" rx="14" ry="13" fill="#6a6a6a"/>
<ellipse cx="4" cy="-2" rx="11" ry="10" fill="#030303"/>
<path d="M-6,-6 A11,10 0 0 1 6,-12" fill="none" stroke="#e8e8e8" stroke-width="1.6"/>
<ellipse cx="-2" cy="11" rx="3" ry="2" fill="#fff"/>
<ellipse cx="-8" cy="-15" rx="4" ry="2.5" fill="#fff" transform="rotate(-30 -8 -15)"/>
</g>
<g transform="translate(74.0,37) scale(1.12)">
<ellipse cx="0" cy="0" rx="24" ry="22" fill="#262626"/>
<ellipse cx="2" cy="0" rx="21" ry="19.5" fill="url(#holeg)"/>
<path d="M-17,-8 A20,19 0 0 0 6,18" fill="none" stroke="#fafafa" stroke-width="5.5" stroke-linecap="round"/>
<ellipse cx="3" cy="-1" rx="14" ry="13" fill="#6a6a6a"/>
<ellipse cx="4" cy="-2" rx="11" ry="10" fill="#030303"/>
<path d="M-6,-6 A11,10 0 0 1 6,-12" fill="none" stroke="#e8e8e8" stroke-width="1.6"/>
<ellipse cx="-2" cy="11" rx="3" ry="2" fill="#fff"/>
<ellipse cx="-8" cy="-15" rx="4" ry="2.5" fill="#fff" transform="rotate(-30 -8 -15)"/>
</g>
<g transform="translate(150.5,37) scale(1.12)">
<ellipse cx="0" cy="0" rx="24" ry="22" fill="#262626"/>
<ellipse cx="2" cy="0" rx="21" ry="19.5" fill="url(#holeg)"/>
<path d="M-17,-8 A20,19 0 0 0 6,18" fill="none" stroke="#fafafa" stroke-width="5.5" stroke-linecap="round"/>
<ellipse cx="3" cy="-1" rx="14" ry="13" fill="#6a6a6a"/>
<ellipse cx="4" cy="-2" rx="11" ry="10" fill="#030303"/>
<path d="M-6,-6 A11,10 0 0 1 6,-12" fill="none" stroke="#e8e8e8" stroke-width="1.6"/>
<ellipse cx="-2" cy="11" rx="3" ry="2" fill="#fff"/>
<ellipse cx="-8" cy="-15" rx="4" ry="2.5" fill="#fff" transform="rotate(-30 -8 -15)"/>
</g>
<g transform="translate(222.5,37) scale(1.12)">
<ellipse cx="0" cy="0" rx="24" ry="22" fill="#262626"/>
<ellipse cx="2" cy="0" rx="21" ry="19.5" fill="url(#holeg)"/>
<path d="M-17,-8 A20,19 0 0 0 6,18" fill="none" stroke="#fafafa" stroke-width="5.5" stroke-linecap="round"/>
<ellipse cx="3" cy="-1" rx="14" ry="13" fill="#6a6a6a"/>
<ellipse cx="4" cy="-2" rx="11" ry="10" fill="#030303"/>
<path d="M-6,-6 A11,10 0 0 1 6,-12" fill="none" stroke="#e8e8e8" stroke-width="1.6"/>
<ellipse cx="-2" cy="11" rx="3" ry="2" fill="#fff"/>
<ellipse cx="-8" cy="-15" rx="4" ry="2.5" fill="#fff" transform="rotate(-30 -8 -15)"/>
</g>
<g transform="translate(297.0,37) scale(1.12)">
<ellipse cx="0" cy="0" rx="24" ry="22" fill="#262626"/>
<ellipse cx="2" cy="0" rx="21" ry="19.5" fill="url(#holeg)"/>
<path d="M-17,-8 A20,19 0 0 0 6,18" fill="none" stroke="#fafafa" stroke-width="5.5" stroke-linecap="round"/>
<ellipse cx="3" cy="-1" rx="14" ry="13" fill="#6a6a6a"/>
<ellipse cx="4" cy="-2" rx="11" ry="10" fill="#030303"/>
<path d="M-6,-6 A11,10 0 0 1 6,-12" fill="none" stroke="#e8e8e8" stroke-width="1.6"/>
<ellipse cx="-2" cy="11" rx="3" ry="2" fill="#fff"/>
<ellipse cx="-8" cy="-15" rx="4" ry="2.5" fill="#fff" transform="rotate(-30 -8 -15)"/>
</g>
</g>
<path d="M40,1127 L189,1088.5 Q193,1102 197,1126 Q204,1150 216,1169.5 L40,1215 Z" fill="#0a0a0a"/>
<path d="M189.5,1089 Q193.5,1103 197.5,1126 Q204.5,1150 216,1169.5" fill="none" stroke="#2e2e2e" stroke-width="2"/>
<path d="M90,1118 L185,1093" stroke="#2a2a2a" stroke-width="3"/>
<circle cx="120" cy="1161" r="13" fill="#1c1c1c" stroke="#3a3a3a" stroke-width="2.5"/>
<circle cx="120" cy="1161" r="8" fill="#2a2a2a" stroke="#000" stroke-width="2"/>
<circle cx="120" cy="1161" r="4" fill="#000"/>
<ellipse cx="152" cy="1146" rx="9" ry="12" fill="#161616" stroke="#3a3a3a" stroke-width="2.5"/>
<ellipse cx="152" cy="1146" rx="3" ry="6" fill="#050505" stroke="#444" stroke-width="1.2"/>
<ellipse cx="92" cy="1168" rx="9" ry="12" fill="#161616" stroke="#333" stroke-width="2.5"/>
<path d="M160,1112 q12,6 14,22" fill="none" stroke="#3a3a3a" stroke-width="2"/>
</g>
<circle cx="270.2" cy="1118.2" r="193.9" fill="none" stroke="#2b5797" stroke-width="5.2"/>
<g clip-path="url(#c4)">
<g transform="translate(1135.5,903.8) rotate(56.6)">
<rect x="0" y="0" width="139" height="40" fill="#121212"/>
<rect x="0" y="0" width="139" height="2.5" fill="#3a3a3a"/>
<rect x="0" y="3" width="139" height="6" fill="#4e4e4e"/>
<rect x="0" y="9" width="139" height="3" fill="#2a2a2a"/>
<rect x="0" y="19" width="139" height="3" fill="#3a3a3a"/>
<rect x="0" y="27" width="139" height="5" fill="#8c8c8c"/>
<rect x="0" y="32" width="139" height="3" fill="#f4f4f4"/>
<rect x="0" y="35" width="139" height="5" fill="#1a1a1a"/>
<rect x="139" y="-4" width="20" height="48" rx="3" fill="#8e8e8e"/>
<rect x="141" y="-4" width="5" height="48" fill="#b5b5b5"/>
<rect x="150" y="-4" width="3" height="48" fill="#6a6a6a"/>
<rect x="153" y="-4" width="4" height="48" fill="#c8c8c8"/>
<path d="M159,12 L169,17 L169,23 L159,28 Z" fill="#9a9a9a"/>
</g>
<path d="M1118,934 Q1128,922 1142,930 Q1146,946 1138,962 Q1126,958 1118,946 Z" fill="#a8a8a8"/>
<ellipse cx="1131" cy="944" rx="7" ry="8" fill="#d8d8d8"/>
<ellipse cx="1132.5" cy="943" rx="4.5" ry="5.5" fill="#050505"/>
<ellipse cx="1226" cy="1068" rx="37" ry="15" transform="rotate(-24 1226 1068)" fill="#7a7a7a"/>
<ellipse cx="1225" cy="1065" rx="34" ry="12" transform="rotate(-24 1225 1065)" fill="#b9b9b9"/>
<ellipse cx="1224" cy="1064" rx="24" ry="8" transform="rotate(-24 1224 1064)" fill="#9a9a9a"/>
<ellipse cx="1217.5" cy="1163" rx="54" ry="49.5" fill="#0b0b0b"/>
<ellipse cx="1219" cy="1162" rx="29" ry="27" fill="#7e7e7e"/>
<ellipse cx="1219" cy="1162" rx="25" ry="23" fill="#bdbdbd"/>
<ellipse cx="1219" cy="1162" rx="19" ry="17.5" fill="#5c5c5c" stroke="#9a9a9a" stroke-width="3" stroke-dasharray="3 2.5"/>
<path d="M1257,1136 Q1265,1148 1262,1162" fill="none" stroke="#e6e6e6" stroke-width="3"/>
<path d="M1186,1182 Q1195,1192 1208,1195" fill="none" stroke="#e6e6e6" stroke-width="3"/>
<path d="M1168,1106 L1193,1093 L1217,1081 L1246,1070 L1251,1080 L1245,1114 L1239,1146 L1230,1166 L1214,1166 L1200,1148 L1190,1139 L1176,1134 L1170,1120 Z" fill="#0f0f0f"/>
<path d="M1194,1093 L1201,1140" stroke="#262626" stroke-width="3"/>
<path d="M1217,1082 L1226,1150" stroke="#1e1e1e" stroke-width="4"/>
<circle cx="1218.6" cy="1153" r="9" fill="#bcbcbc"/><circle cx="1218" cy="1152" r="4.5" fill="#8a8a8a"/><circle cx="1216" cy="1150" r="1.8" fill="#fff"/>
<circle cx="1202" cy="1128" r="3" fill="#2e2e2e"/>
<path d="M1104.2,1137.3 L1166,1111.7 L1174,1103 L1181,1114 L1178,1140 L1160.7,1151.8 L1149,1161 L1141,1144 L1108.1,1151.8 Z" fill="#151515"/>
<path d="M1106,1139 L1164,1115" stroke="#2c2c2c" stroke-width="2"/>
<circle cx="1153" cy="1134" r="5" fill="#c9c9c9"/><circle cx="1153.5" cy="1134.5" r="2.5" fill="#8a8a8a"/>
</g>
<circle cx="1184" cy="1114.2" r="190.6" fill="none" stroke="#2b5797" stroke-width="5.0"/>
<line x1="381.0" y1="466.9" x2="502.6" y2="554.1" stroke="#28518f" stroke-width="3.5"/>
<line x1="1077.0" y1="440.8" x2="902.5" y2="557.7" stroke="#28518f" stroke-width="3.5"/>
<line x1="345.2" y1="937.0" x2="446.2" y2="801.3" stroke="#28518f" stroke-width="3.5"/>
<line x1="1121.0" y1="933.0" x2="1037.3" y2="722.5" stroke="#28518f" stroke-width="3.5"/>
<circle cx="502.6" cy="554.1" r="7.9" fill="#fff" stroke="#234a8a" stroke-width="2.8"/>
<circle cx="902.5" cy="557.7" r="7.9" fill="#fff" stroke="#234a8a" stroke-width="2.8"/>
<circle cx="446.2" cy="801.3" r="7.9" fill="#fff" stroke="#234a8a" stroke-width="2.8"/>
<circle cx="1037.3" cy="722.5" r="7.9" fill="#fff" stroke="#234a8a" stroke-width="2.8"/>
<g font-family="Liberation Sans, sans-serif" fill="#050505">
<text x="16.2" y="82.5" font-size="40.4" letter-spacing="0.00">Scratch, Stain and Warp</text>
<text x="22.8" y="122.2" font-size="40.6" letter-spacing="0.00">Resistant Laminate Top</text>
<text x="1066.9" y="53.4" font-size="40.7" letter-spacing="0.00">Wave Shape for</text>
<text x="988.8" y="93.4" font-size="41.7" letter-spacing="0.00">Nesting Tables Together</text>
<text x="126.6" y="1363.4" font-size="41.3" letter-spacing="0.00">Adjustable Legs</text>
<text x="67.7" y="1403.5" font-size="40.5" letter-spacing="0.00">adjust in 1” Increments</text>
<text x="1046.7" y="1362.0" font-size="41.0" letter-spacing="0.00">Locking Casters</text>
</g>
</svg>
</body></html>
